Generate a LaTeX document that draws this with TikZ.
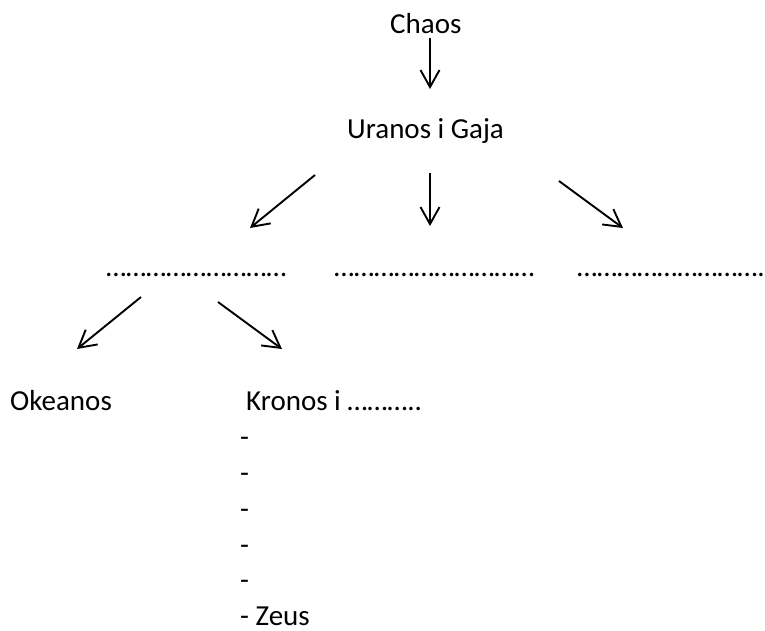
\documentclass[tikz,border=0pt]{standalone}
\usepackage{fontspec}
\setmainfont{Carlito}
\usetikzlibrary{arrows.meta}
\begin{document}
\begin{tikzpicture}[x=1pt,y=-1pt,
  lbl/.style={anchor=base west,inner sep=0pt,font=\fontsize{29}{35}\selectfont},
  arr/.style={line width=1.9pt,-{Straight Barb[length=17pt,width=19pt,line width=1.9pt]}}]
\useasboundingbox (0,0) rectangle (765,630);
% texts
\node[lbl] (chaos) at (390,33) {Chaos};
\node[lbl] (uranos) at (347,138) {Uranos i Gaja};
\node[lbl] (d1) at (106,276) {………………………};
\node[lbl] (d2) at (334,276) {…………………………};
\node[lbl] (d3) at (577,276) {……………………….};
\node[lbl] (okeanos) at (10,410) {Okeanos};
\node[lbl] (kronos) at (246,410) {Kronos i ………..};
\foreach \k in {0,...,4}{
  \node[lbl] (dash\k) at (240,{446.6+35.8*\k}) {-};
}
\node[lbl,text depth=0pt] (zeus) at (240,625) {- Zeus};
% arrow endpoints
\coordinate (a1s) at (430,38);  \coordinate (a1e) at (430,89);
\coordinate (a2s) at (315,175); \coordinate (a2e) at (250,228);
\coordinate (a3s) at (430,173); \coordinate (a3e) at (430,226);
\coordinate (a4s) at (559,181); \coordinate (a4e) at (623,228);
\coordinate (a5s) at (141,297); \coordinate (a5e) at (77,349);
\coordinate (a6s) at (218,302); \coordinate (a6e) at (282,349);
\draw[arr] (a1s) -- (a1e);
\draw[arr] (a2s) -- (a2e);
\draw[arr] (a3s) -- (a3e);
\draw[arr] (a4s) -- (a4e);
\draw[arr] (a5s) -- (a5e);
\draw[arr] (a6s) -- (a6e);
\end{tikzpicture}
\end{document}
